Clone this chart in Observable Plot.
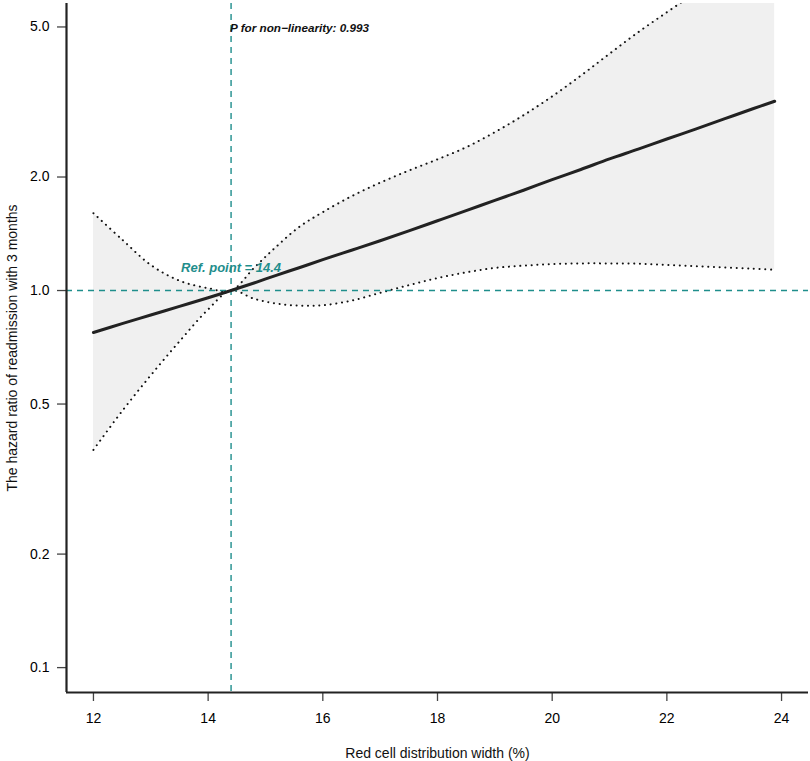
<!DOCTYPE html>
<html>
<head>
<meta charset="utf-8">
<script src="https://cdn.jsdelivr.net/npm/d3@7"></script>
<script src="https://cdn.jsdelivr.net/npm/@observablehq/plot@0.6"></script>
<style>
  html, body { margin: 0; padding: 0; background: #fff; }
  #chart svg { display: block; }
</style>
</head>
<body>
<div id="chart"></div>
<script>
// Red cell distribution width (%)
const rdw = [12, 12.5, 13, 13.5, 14, 14.4, 14.8, 15.2, 15.6, 16, 16.5, 17, 17.5, 18, 18.5, 19, 19.5, 20, 20.5, 21, 21.5, 22, 22.5, 23, 23.5, 23.88];
// Hazard ratio estimate
const hr = [0.774, 0.817, 0.861, 0.908, 0.957, 1.000, 1.047, 1.099, 1.151, 1.208, 1.279, 1.355, 1.439, 1.531, 1.629, 1.734, 1.845, 1.968, 2.094, 2.234, 2.371, 2.523, 2.679, 2.851, 3.034, 3.177];
// 95% CI upper bound
const upper = [1.603, 1.365, 1.169, 1.062, 1.014, 1.000, 1.148, 1.312, 1.479, 1.614, 1.778, 1.932, 2.080, 2.228, 2.399, 2.630, 2.917, 3.273, 3.715, 4.246, 4.842, 5.470, 6.166, 6.918, 7.762, 8.511];
// 95% CI lower bound
const lower = [0.378, 0.479, 0.596, 0.733, 0.891, 1.000, 0.951, 0.923, 0.912, 0.914, 0.940, 0.986, 1.033, 1.079, 1.117, 1.148, 1.164, 1.175, 1.180, 1.180, 1.178, 1.169, 1.161, 1.151, 1.143, 1.135];

const yTicks = [0.1, 0.2, 0.5, 1, 2, 5];
const xTicks = [12, 14, 16, 18, 20, 22, 24];
const refPoint = 14.4;
const pNonLinear = "0.993";

const data = rdw.map((x, i) => ({x, hr: hr[i], lo: lower[i], hi: upper[i]}));

const xDomain = [11.53, 24.47];
const yDomain = [0.0859, 5.77];
const teal = "#1f8e8c";
const font = "Liberation Sans, Arial, Helvetica, sans-serif";

const chart = Plot.plot({
  width: 810,
  height: 761,
  marginLeft: 66,
  marginRight: 2,
  marginTop: 3,
  marginBottom: 69,
  style: {fontFamily: font, fontSize: "14px", color: "#000", background: "#fff"},
  x: {domain: xDomain},
  y: {type: "log", domain: yDomain},
  marks: [
    Plot.areaY(data, {x: "x", y1: "lo", y2: "hi", fill: "#f0f0f0", curve: "catmull-rom", clip: true}),
    Plot.line(data, {x: "x", y: "hi", stroke: "#111", strokeWidth: 2, strokeDasharray: "0.1,5.6", strokeLinecap: "round", curve: "catmull-rom", clip: true}),
    Plot.line(data, {x: "x", y: "lo", stroke: "#111", strokeWidth: 2, strokeDasharray: "0.1,5.6", strokeLinecap: "round", curve: "catmull-rom", clip: true}),
    Plot.ruleX([refPoint], {stroke: teal, strokeWidth: 1.4, strokeDasharray: "6,5"}),
    Plot.ruleY([1], {stroke: teal, strokeWidth: 1.4, strokeDasharray: "6,5"}),
    Plot.line(data, {x: "x", y: "hr", stroke: "#222", strokeWidth: 3, curve: "catmull-rom", clip: true}),
    Plot.axisY({ticks: yTicks, tickFormat: d3.format(".1f"), tickSize: 9, tickPadding: 8, label: null, fontSize: 14, stroke: "#444", strokeWidth: 1.3}),
    Plot.axisX({ticks: xTicks, tickFormat: d => String(d), tickSize: 9, tickPadding: 12, label: null, fontSize: 14, stroke: "#444", strokeWidth: 1.3}),
    Plot.ruleX([xDomain[0]], {stroke: "#222", strokeWidth: 2.2}),
    Plot.ruleY([yDomain[0]], {stroke: "#222", strokeWidth: 2.2}),
    Plot.text(["Ref. point = " + refPoint], {x: refPoint, y: 1, dy: -23, fill: teal, fontSize: 13, fontWeight: "bold", fontStyle: "italic", textAnchor: "middle"}),
    Plot.text(["P for non\u2212linearity: " + pNonLinear], {x: refPoint, y: 5, dy: 1, dx: -1, fill: "#111", fontSize: 11.7, fontWeight: "bold", fontStyle: "italic", textAnchor: "start"}),
    Plot.text(["Red cell distribution width (%)"], {frameAnchor: "bottom", dy: 61, fontSize: 14, fill: "#111", textAnchor: "middle", lineAnchor: "middle"}),
    Plot.text(["The hazard ratio of readmission with 3 months"], {frameAnchor: "left", dx: -54, rotate: -90, fontSize: 14, fill: "#111", textAnchor: "middle", lineAnchor: "middle"})
  ]
});

document.getElementById("chart").appendChild(chart);
</script>
</body>
</html>
